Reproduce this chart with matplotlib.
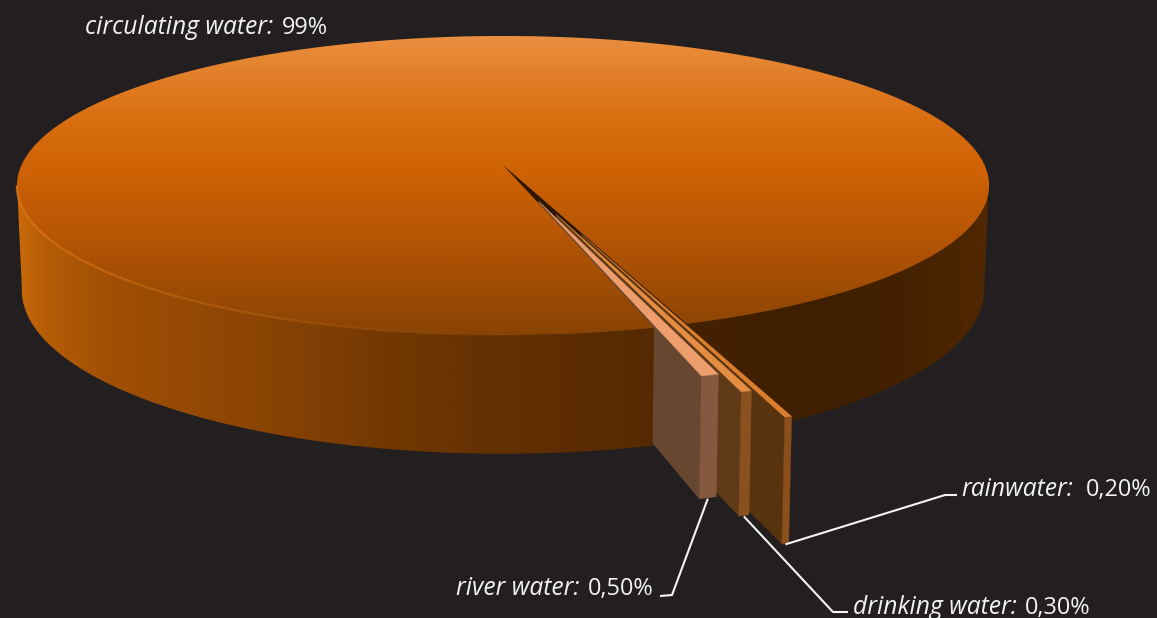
import numpy as np
import matplotlib
matplotlib.use("Agg")
import matplotlib.pyplot as plt
from matplotlib.collections import LineCollection
from matplotlib.colors import LinearSegmentedColormap, to_rgb
from matplotlib.patches import Polygon

# Water sources, in percent of total intake
sources = ["circulating water", "river water", "drinking water", "rainwater"]
shares = [99.0, 0.5, 0.3, 0.2]
share_labels = ["99%", "0,50%", "0,30%", "0,20%"]

# Pull-out of each slice as a fraction of the radius
explode = [0.0, 0.25, 0.34, 0.47]
first_slice_angle = 15.8  # degrees from the front of the disc, towards the right

# Perspective model of the disc
CX, CY = 503.0, 165.0
RX, RY = 481.5, 146.7
PERSP = 0.137
DEPTH = 102.5
BASE_SHRINK = 0.99
LEFT_EXTREME, RIGHT_EXTREME = 277.0, 83.0

BG = "#231F20"
TEXT = "#F2F2F2"


def project(u, v):
    w = 1.0 - PERSP * np.asarray(v, float)
    return CX + RX * np.asarray(u, float) / w, CY + RY * np.asarray(v, float) / w


def project_base(u, v):
    x, y = project(u, v)
    w = 1.0 - PERSP * np.asarray(v, float)
    return CX + (x - CX) * BASE_SHRINK, y + DEPTH / w


def unit(theta_deg):
    t = np.radians(theta_deg)
    return np.sin(t), np.cos(t)


def arc(a0, a1, off=(0.0, 0.0), n=300):
    u, v = unit(np.linspace(a0, a1, n))
    return u + off[0], v + off[1]


def poly(x, y):
    return np.column_stack([x, y])


def gradient_image(ax, patch, stops, vertical):
    lo, hi = stops[0][0], stops[-1][0]
    cmap = LinearSegmentedColormap.from_list(
        "g", [((p - lo) / (hi - lo), to_rgb(c)) for p, c in stops], N=512)
    ramp = np.linspace(0, 1, 512)
    data = ramp[:, None] if vertical else ramp[None, :]
    ax.add_patch(patch)
    extent = (0, 1157, hi, lo) if vertical else (lo, hi, 618, 0)
    im = ax.imshow(data, cmap=cmap, extent=extent, aspect="auto",
                   origin="upper", zorder=patch.get_zorder(), vmin=0, vmax=1,
                   interpolation="bilinear")
    im.set_clip_path(patch)


fig = plt.figure(figsize=(11.57, 6.18), dpi=100, facecolor=BG)
ax = fig.add_axes([0, 0, 1, 1])
ax.set_facecolor(BG)
ax.axis("off")

# Cumulative slice angles, derived from the shares
sweeps = [s / 100.0 * 360.0 for s in shares]
slice_edges = []
a = first_slice_angle
for sw in sweeps[1:]:
    slice_edges.append((a, a + sw))
    a += sw
main_start, main_end = a, a + sweeps[0]

WALL = [(17, "#C96A0A"), (45, "#B55C07"), (110, "#A04F05"), (250, "#8C4504"),
        (400, "#703702"), (500, "#633002"), (650, "#562A00"), (690, "#442100"),
        (800, "#3F1F00"), (900, "#432100"), (988, "#502800")]
TOP = [(36, "#EA8F40"), (70, "#E4812C"), (120, "#D96F10"), (170, "#CF6205"),
       (220, "#BD5804"), (280, "#A24E04"), (336, "#884304")]

# Outer wall of the large slice, in two parts so the small slices sit between them
ux, vx = arc(main_start, RIGHT_EXTREME)
tx, ty = project(ux, vx)
bx, by = project_base(ux, vx)
gradient_image(ax, Polygon(poly(np.r_[tx, bx[::-1]], np.r_[ty, by[::-1]]),
                           fc="none", ec="none", zorder=1), WALL, False)

# Cut face of the large slice, seen through the gap
ue, ve = unit(main_start)
xs, ys = project([0, ue], [0, ve])
xb, yb = project_base([0, ue], [0, ve])
ax.add_patch(Polygon(poly(np.r_[xs, xb[::-1]], np.r_[ys, yb[::-1]]),
                     fc="#2E1700", ec="none", zorder=1.5))

SLICE_COLOURS = [
    dict(top="#EE9E6C", side="#674730", rim="#85593F"),
    dict(top="#E48D43", side="#5E3A18", rim="#8A5020"),
    dict(top="#DB7E2E", side="#57340F", rim="#8B4F1B"),
]

anchors = {}
# Far slice first, so nearer ones overlap it
for idx in [2, 1, 0]:
    a0, a1 = slice_edges[idx]
    mid = 0.5 * (a0 + a1)
    ou, ov = unit(mid)
    off = (ou * explode[idx + 1], ov * explode[idx + 1])
    col = SLICE_COLOURS[idx]
    z = 2 + (2 - idx) * 0.1

    lu, lv = unit(a0)
    px, py = project([off[0], off[0] + lu], [off[1], off[1] + lv])
    qx, qy = project_base([off[0], off[0] + lu], [off[1], off[1] + lv])
    ax.add_patch(Polygon(poly(np.r_[px, qx[::-1]], np.r_[py, qy[::-1]]),
                         fc=col["side"], ec=col["side"], lw=0.3, zorder=z))

    au, av = arc(a0, a1, off, 12)
    tx, ty = project(au, av)
    bx, by = project_base(au, av)
    ax.add_patch(Polygon(poly(np.r_[tx, bx[::-1]], np.r_[ty, by[::-1]]),
                         fc=col["rim"], ec=col["rim"], lw=0.3, zorder=z + 0.01))

    # Upper face goes over the large slice's surface
    fx, fy = project(np.r_[off[0], au], np.r_[off[1], av])
    ax.add_patch(Polygon(poly(fx, fy), fc=col["top"], ec=col["top"], lw=0.2,
                         zorder=6 + (2 - idx) * 0.1))
    anchors[idx] = (bx.mean(), by.mean())

# Left and front part of the wall, hiding the inner end of the small slices
ux, vx = arc(LEFT_EXTREME, main_end)
tx, ty = project(ux, vx)
bx, by = project_base(ux, vx)
gradient_image(ax, Polygon(poly(np.r_[tx, bx[::-1]], np.r_[ty, by[::-1]]),
                           fc="none", ec="none", zorder=4), WALL, False)

# Upper face of the large slice
ux, vx = arc(main_start, main_end, n=800)
tx, ty = project(np.r_[0, ux], np.r_[0, vx])
gradient_image(ax, Polygon(poly(tx, ty), fc="none", ec="none", zorder=5), TOP, True)

# Lit edge along the front left of the disc, fading towards the gap
ux, vx = arc(LEFT_EXTREME + 1, main_end - 8, n=200)
tx, ty = project(ux, vx)
pts = poly(tx, ty)
segs = np.stack([pts[:-1], pts[1:]], axis=1)
fade = np.linspace(0.9, 0.0, len(segs))
rgba = [(*to_rgb("#E27A18"), f) for f in fade]
ax.add_collection(LineCollection(segs, colors=rgba, linewidths=1.6, zorder=5.5))

# Labels: italic source name followed by an upright value
FS_NAME, FS_VALUE = 17.7, 16.9
renderer = fig.canvas.get_renderer()


def label(x, y, name, value, gap):
    t = ax.text(x, y, name + ":", family="Open Sans", style="italic", fontsize=FS_NAME,
                color=TEXT, ha="left", va="baseline", zorder=8)
    ext = t.get_window_extent(renderer)
    ax.text(ext.x1 + gap, y, value, family="Open Sans", fontsize=FS_VALUE,
            color=TEXT, ha="left", va="baseline", zorder=8)


label(85, 34, sources[0], share_labels[0], 9)
label(456, 595, sources[1], share_labels[1], 8)
label(853, 614, sources[2], share_labels[2], 8)
label(961, 496, sources[3], share_labels[3], 13)

# Leader lines from the foot of each small slice to its label
LEADERS = {
    0: [(672, 595), (660, 596)],
    1: [(833, 612), (848, 612)],
    2: [(945, 495), (957, 495)],
}
for idx, elbow in LEADERS.items():
    sx, sy = anchors[idx]
    xs_ = [sx] + [p[0] for p in elbow]
    ys_ = [sy + 1] + [p[1] for p in elbow]
    ax.plot(xs_, ys_, color="#F4F4F4", lw=1.5, zorder=9, solid_capstyle="butt",
            solid_joinstyle="round")

ax.set_xlim(0, 1157)
ax.set_ylim(618, 0)
fig.savefig("out.png", dpi=100, facecolor=BG)
